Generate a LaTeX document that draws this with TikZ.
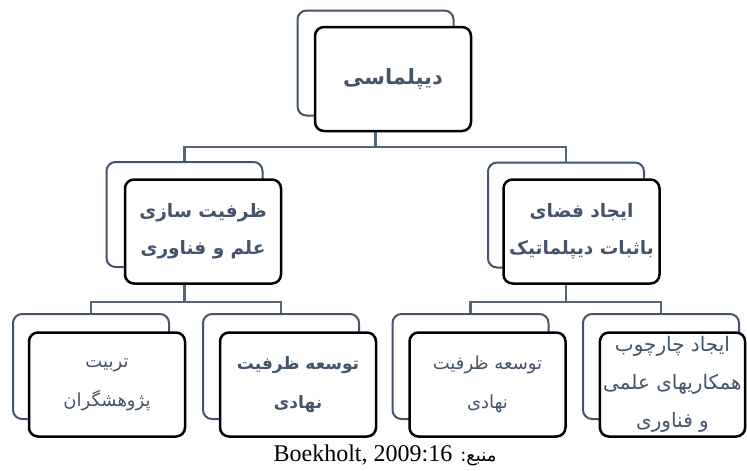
\documentclass[tikz,border=0pt]{standalone}
\usepackage{fontspec}
\usepackage{xcolor}
\setmainfont{Liberation Serif}
\newfontfamily\fa[Script=Arabic]{DejaVu Sans}
\TeXXeTstate=1
\definecolor{slate}{HTML}{44546A}
\newcommand{\rl}[1]{\beginR #1\endR}

\begin{document}
\begin{tikzpicture}[x=1pt, y=-1pt,
    back/.style={draw=slate, line width=2pt, rounded corners=9pt, minimum width=156pt, minimum height=105pt},
    front/.style={draw=black, line width=2.5pt, fill=white, rounded corners=9pt, minimum width=156pt, minimum height=104pt,
        align=center, text=slate, font=\fa\fontsize{18}{39}\selectfont},
    heavy/.style={font=\fa\bfseries\fontsize{18.5}{37}\selectfont},
    link/.style={draw=slate!90, line width=2.5pt}]
    \useasboundingbox (0,0) rectangle (747,471);

    % Shadow boxes behind each level
    \node[back] (dipB) at (375.5,63) {};
    \node[back] (capB) at (184.5,214.5) {};
    \node[back] (spcB) at (566,215) {};
    \node[back] (trnB) at (91,366.5) {};
    \node[back] (instB) at (281,366.5) {};
    \node[back] (inst2B) at (470.5,366.5) {};
    \node[back] (frmB) at (661,366.5) {};

    % Connectors
    \coordinate (bar1) at (0,147);
    \coordinate (bar2) at (0,302);
    \draw[link] (dipB.south) -- (dipB.south |- bar1) -| (capB.north);
    \draw[link] (dipB.south |- bar1) -| (spcB.north);
    \draw[link] (capB.south) -- (capB.south |- bar2) -| (trnB.north);
    \draw[link] (capB.south |- bar2) -| (instB.north);
    \draw[link] (spcB.south) -- (spcB.south |- bar2) -| (inst2B.north);
    \draw[link] (spcB.south |- bar2) -| (frmB.north);

    % Top level
    \node[front, font=\fa\bfseries\fontsize{21}{34}\selectfont] (dip) at (393,79) {\rl{دیپلماسی}};

    % Second level
    \node[front, heavy] (cap) at (203,231.5) {\rl{ظرفیت سازی}\\\rl{علم و فناوری}};
    \node[front, heavy] (spc) at (581.5,231.5) {\rl{ایجاد فضای}\\\rl{باثبات دیپلماتیک}};

    % Third level
    \node[front] (trn) at (107,384.5) {\rl{تربیت}\\\rl{پژوهشگران}};
    \node[front, font=\fa\bfseries\fontsize{17}{39}\selectfont] (inst) at (298,384.5) {\rl{توسعه ظرفیت}\\\rl{نهادی}};
    \node[front] (inst2) at (487.5,384.5) {\rl{توسعه ظرفیت}\\\rl{نهادی}};
    \node[front, minimum width=145pt, font=\fa\fontsize{20}{38}\selectfont] (frm) at (672.5,384.5) {\rl{ایجاد چارچوب}\\\rl{همکاریهای علمی}\\\rl{و فناوری}};

    % Source line
    \node[font=\fontsize{24}{26}\selectfont] (src) at (385,455) {\rl{{\fa\fontsize{18}{20}\selectfont منبع:} \beginL Boekholt, 2009:16\endL}};
\end{tikzpicture}
\end{document}
